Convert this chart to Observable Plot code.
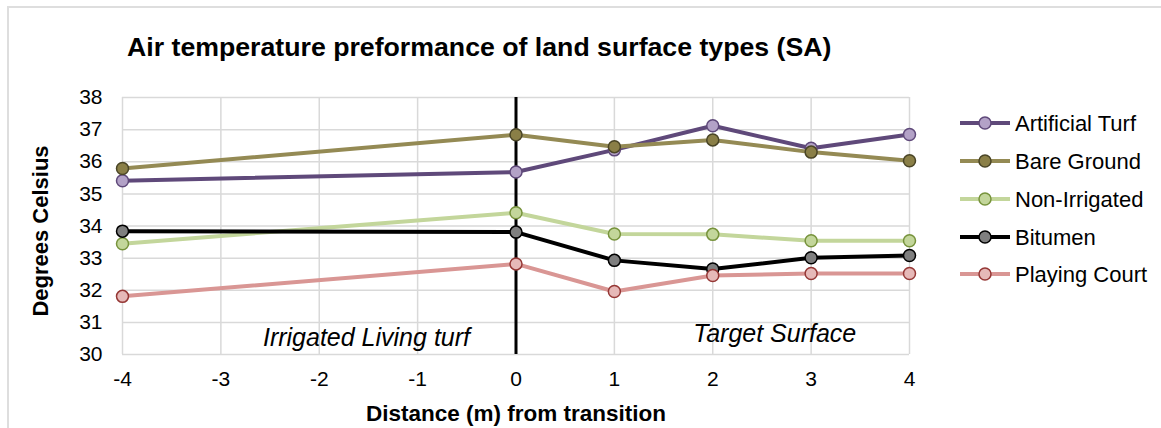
<!DOCTYPE html>
<html>
<head>
<meta charset="utf-8">
<script src="https://cdn.jsdelivr.net/npm/d3@7"></script>
<script src="https://cdn.jsdelivr.net/npm/@observablehq/plot@0.6"></script>
<style>
  body { margin: 0; background: #fff; }
  #wrap { position: relative; width: 1161px; height: 428px; overflow: hidden; font-family: "Liberation Sans", Arial, sans-serif; color: #000; }
  #border { position: absolute; left: 7px; top: 6px; width: 1200px; height: 500px; border-top: 2px solid #dedede; border-left: 2px solid #dedede; }
  #title { position: relative; height: 75px; }
  #title span { position: absolute; left: 127px; top: 34px; font-size: 26.7px; line-height: 26.7px; font-weight: bold; white-space: nowrap; }
  #chart { position: relative; }
  #legend { position: absolute; left: 0; top: 0; }
</style>
</head>
<body>
<div id="wrap">
  <div id="border"></div>
  <div id="title"><span>Air temperature preformance of land surface types (SA)</span></div>
  <div id="chart"></div>
  <svg id="legend" width="1161" height="428"></svg>
</div>
<script>
// ---- data ----
const xTicks = [-4, -3, -2, -1, 0, 1, 2, 3, 4];
const yTicks = [30, 31, 32, 33, 34, 35, 36, 37, 38];
const distances = [-4, 0, 1, 2, 3, 4];
const seriesNames = ["Artificial Turf", "Bare Ground", "Non-Irrigated", "Bitumen", "Playing Court"];
const artificialTurf = [35.41, 35.68, 36.37, 37.12, 36.42, 36.85];
const bareGround     = [35.79, 36.84, 36.47, 36.68, 36.30, 36.03];
const nonIrrigated   = [33.45, 34.41, 33.75, 33.74, 33.54, 33.54];
const bitumen        = [33.84, 33.81, 32.93, 32.66, 33.01, 33.08];
const playingCourt   = [31.81, 32.82, 31.96, 32.46, 32.52, 32.52];
const transition = [0];
const annotationLabels = ["Irrigated Living turf", "Target Surface"];
const annotationX = [-1.52, 2.63];
const annotationY = [30.28, 30.38];

// ---- styles ----
const lineColors   = ["#5f497a", "#948a54", "#c3d69b", "#000000", "#d99694"];
const markerFills  = ["#b3a2c7", "#8a7f47", "#c3d69b", "#7f7f7f", "#e6b9b8"];
const markerStroke = ["#5f497a", "#4a4526", "#77933c", "#000000", "#953735"];

const allValues = [artificialTurf, bareGround, nonIrrigated, bitumen, playingCourt];
const rows = seriesNames.flatMap((name, k) =>
  distances.map((d, i) => ({series: name, x: d, y: allValues[k][i]})));
const annotations = annotationLabels.map((t, i) => ({text: t, x: annotationX[i], y: annotationY[i]}));

const seriesMarks = seriesNames.flatMap((name, k) => {
  const data = rows.filter(r => r.series === name);
  return [
    Plot.line(data, {x: "x", y: "y", stroke: lineColors[k], strokeWidth: 4}),
    Plot.dot(data, {x: "x", y: "y", r: 6, fill: markerFills[k], stroke: markerStroke[k], strokeWidth: 1.5})
  ];
});

const chart = Plot.plot({
  width: 1161,
  height: 353,
  marginTop: 22,
  marginBottom: 74,
  marginLeft: 122,
  marginRight: 252,
  style: {fontFamily: "'Liberation Sans', Arial, sans-serif", fontSize: "21px", background: "transparent", color: "#000", overflow: "visible"},
  x: {domain: [-4, 4]},
  y: {domain: [30, 38]},
  marks: [
    Plot.gridX(xTicks, {stroke: "#d9d9d9", strokeOpacity: 1, strokeWidth: 1.5}),
    Plot.gridY(yTicks, {stroke: "#d9d9d9", strokeOpacity: 1, strokeWidth: 1.5}),
    Plot.ruleX(transition, {stroke: "#000", strokeWidth: 3}),
    ...seriesMarks,
    Plot.axisX(xTicks, {tickSize: 0, tickPadding: 17, fontSize: 21, label: null, tickFormat: d => String(d).replace("−", "-")}),
    Plot.axisY(yTicks, {tickSize: 0, tickPadding: 20, fontSize: 21, label: null}),
    Plot.text(annotations, {x: "x", y: "y", text: "text", fontSize: 25, fontStyle: "italic", lineAnchor: "bottom", textAnchor: "middle", fill: "#000"}),
    Plot.text(["Distance (m) from transition"], {frameAnchor: "bottom", dy: 66, lineAnchor: "bottom", textAnchor: "middle", fontSize: 22.5, fontWeight: "bold", fill: "#000"}),
    Plot.text(["Degrees Celsius"], {frameAnchor: "left", dx: -82, dy: 5, rotate: -90, textAnchor: "middle", lineAnchor: "middle", fontSize: 22, fontWeight: "bold", fill: "#000"})
  ]
});
document.getElementById("chart").appendChild(chart);

// ---- legend ----
const legend = d3.select("#legend");
const rowY = [123, 161, 199, 237, 274];
seriesNames.forEach((name, k) => {
  const g = legend.append("g").attr("transform", `translate(0,${rowY[k]})`);
  g.append("line").attr("x1", 960).attr("x2", 1010).attr("y1", 0).attr("y2", 0)
    .attr("stroke", lineColors[k]).attr("stroke-width", 4);
  g.append("circle").attr("cx", 985).attr("cy", 0).attr("r", 6)
    .attr("fill", markerFills[k]).attr("stroke", markerStroke[k]).attr("stroke-width", 1.5);
  g.append("text").attr("x", 1015).attr("y", 0).attr("dy", "0.35em")
    .attr("font-family", "'Liberation Sans', Arial, sans-serif").attr("font-size", 22)
    .attr("fill", "#000").text(name);
});
</script>
</body>
</html>
